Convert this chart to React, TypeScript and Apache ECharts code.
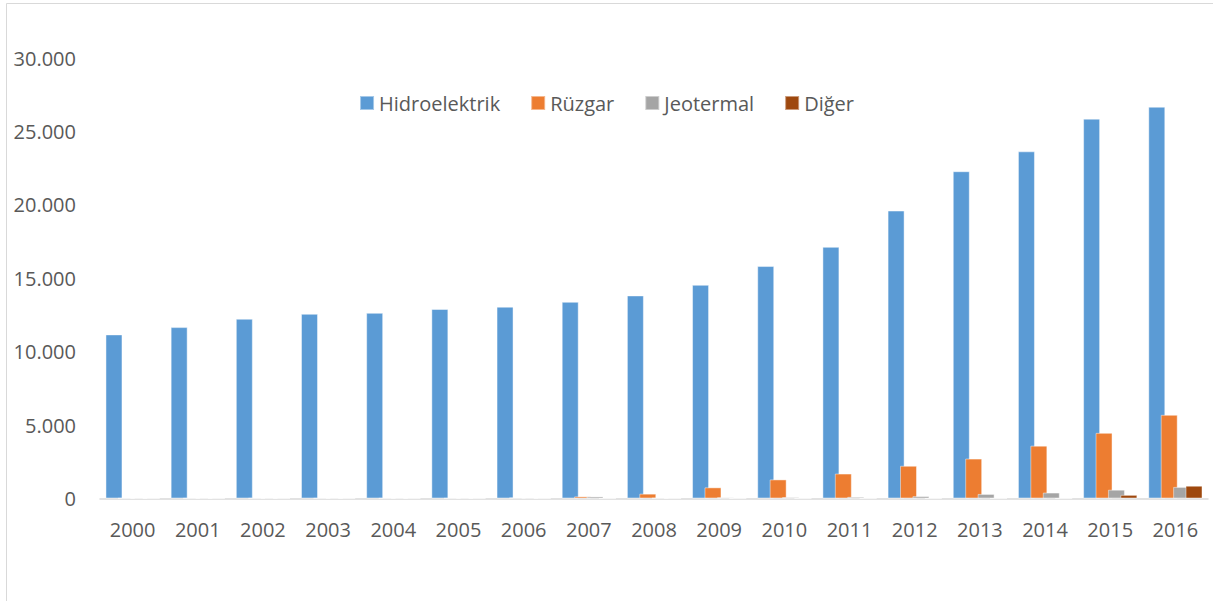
import React, { useEffect, useRef } from "react";
import * as echarts from "echarts";

// Installed capacity by source, 2000–2016
const years = [
  "2000", "2001", "2002", "2003", "2004", "2005", "2006", "2007", "2008",
  "2009", "2010", "2011", "2012", "2013", "2014", "2015", "2016",
];
const hidroelektrik = [
  11175, 11673, 12241, 12579, 12645, 12906, 13063, 13395, 13829,
  14553, 15831, 17137, 19609, 22289, 23643, 25868, 26681,
];
const ruzgar = [
  19, 19, 19, 19, 19, 20, 59, 146, 330,
  760, 1300, 1700, 2230, 2720, 3600, 4470, 5700,
];
const jeotermal = [
  18, 18, 18, 15, 15, 15, 40, 140, 30,
  77, 94, 114, 162, 311, 405, 600, 790,
];
const diger = [
  0, 0, 0, 0, 0, 0, 0, 0, 0,
  0, 0, 0, 0, 0, 0, 249, 870,
];
const seriesNames = ["Hidroelektrik", "Rüzgar", "Jeotermal", "Diğer"];
const seriesColors = ["#5B9BD5", "#ED7D31", "#A5A5A5", "#9E480E"];

const FONT = "'Open Sans', 'Noto Sans', sans-serif";
const TEXT = "#595959";

export default function App() {
  const ref = useRef<HTMLDivElement>(null);

  useEffect(() => {
    document.body.style.margin = "0";
    if (!ref.current) return;
    const chart = echarts.init(ref.current, undefined, { renderer: "svg" });
    const data = [hidroelektrik, ruzgar, jeotermal, diger];

    chart.setOption({
      animation: false,
      backgroundColor: "#ffffff",
      textStyle: { fontFamily: FONT },
      graphic: [
        {
          type: "rect",
          shape: { x: 6.5, y: 3.5, width: 1300, height: 700 },
          style: { fill: "none", stroke: "#D9D9D9", lineWidth: 1 },
          silent: true,
        },
      ],
      legend: {
        left: "center",
        top: 88,
        itemWidth: 14,
        itemHeight: 14,
        itemGap: 30,
        icon: "rect",
        textStyle: { fontFamily: FONT, fontSize: 20, color: TEXT },
        data: seriesNames,
      },
      grid: { left: 100, right: 5, top: 58, bottom: 102.5, containLabel: false },
      xAxis: {
        type: "category",
        data: years,
        axisLine: { lineStyle: { color: "#D9D9D9", width: 1.5 } },
        axisTick: { show: false },
        axisLabel: { color: TEXT, fontFamily: FONT, fontSize: 20, margin: 21 },
      },
      yAxis: {
        type: "value",
        min: 0,
        max: 30000,
        interval: 5000,
        splitLine: { show: false },
        axisLine: { show: false },
        axisTick: { show: false },
        axisLabel: {
          color: TEXT,
          fontFamily: FONT,
          fontSize: 20,
          margin: 24,
          formatter: (v: number) =>
            String(Math.round(v)).replace(/\B(?=(\d{3})+(?!\d))/g, "."),
        },
      },
      series: seriesNames.map((name, i) => ({
        name,
        type: "bar",
        data: data[i],
        barWidth: 17,
        barGap: "-27%",
        itemStyle: {
          color: seriesColors[i],
          borderColor: "rgba(255,255,255,0.45)",
          borderWidth: 1,
        },
      })),
    });

    return () => chart.dispose();
  }, []);

  return (
    <div
      ref={ref}
      style={{ width: 1213, height: 601, background: "#ffffff" }}
    />
  );
}
